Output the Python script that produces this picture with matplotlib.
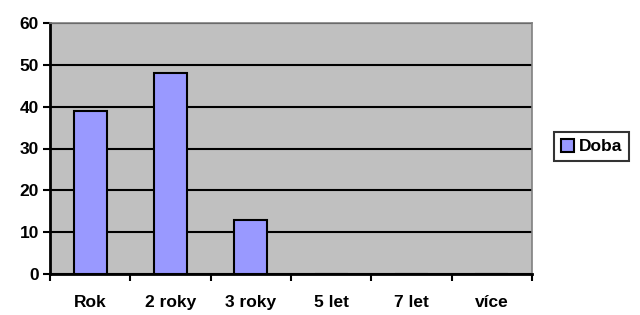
import numpy as np
import matplotlib.pyplot as plt
from matplotlib.patches import Patch

categories = ['Rok', '2 roky', '3 roky', '5 let', '7 let', 'více']
doba = [39, 48, 13, 0, 0, 0]

plt.rcParams['font.family'] = ['Liberation Sans', 'DejaVu Sans']
plt.rcParams['font.weight'] = 'bold'

fig = plt.figure(figsize=(6.4, 3.15), dpi=100)
ax = fig.add_axes([50 / 640, 41 / 315, 482 / 640, 251 / 315])
ax.set_facecolor('#C0C0C0')

x = np.arange(len(categories))
ax.bar(x, doba, width=0.41, color='#9999FF', edgecolor='black', linewidth=1.5, zorder=3)

ax.set_xlim(-0.5, len(categories) - 0.5)
ax.set_ylim(0, 60)
ax.set_yticks(range(0, 61, 10))
ax.yaxis.grid(True, color='black', linewidth=1.5, zorder=1)
ax.set_axisbelow(True)

# ticks at category boundaries, labels centred
ax.set_xticks(np.arange(-0.5, len(categories), 1))
ax.set_xticklabels([])
ax.set_xticks(x, minor=True)
ax.set_xticklabels(categories, minor=True, fontsize=12.5, fontweight='bold')
ax.tick_params(axis='x', which='minor', length=0, pad=15)
ax.tick_params(axis='x', which='major', length=5, width=1.5, direction='out')
ax.tick_params(axis='y', length=5, width=1.5, direction='out', labelsize=12.5, pad=3)
for lab in ax.get_yticklabels():
    lab.set_fontweight('bold')

for s in ['left', 'bottom']:
    ax.spines[s].set_color('black')
    ax.spines[s].set_linewidth(2)
for s in ['top', 'right']:
    ax.spines[s].set_color('#808080')
    ax.spines[s].set_linewidth(1.2)

handle = Patch(facecolor='#9999FF', edgecolor='black', linewidth=1.5)
leg = fig.legend([handle], ['Doba'], loc='upper left', bbox_to_anchor=(554 / 640, 1 - 132 / 315),
                 frameon=True, fancybox=False, edgecolor='black',
                 prop={'size': 12.5, 'weight': 'bold'},
                 handlelength=0.75, handleheight=0.75, handletextpad=0.3, borderpad=0.4,
                 borderaxespad=0)
leg.get_frame().set_linewidth(1.5)

plt.savefig('out.png', dpi=100)
